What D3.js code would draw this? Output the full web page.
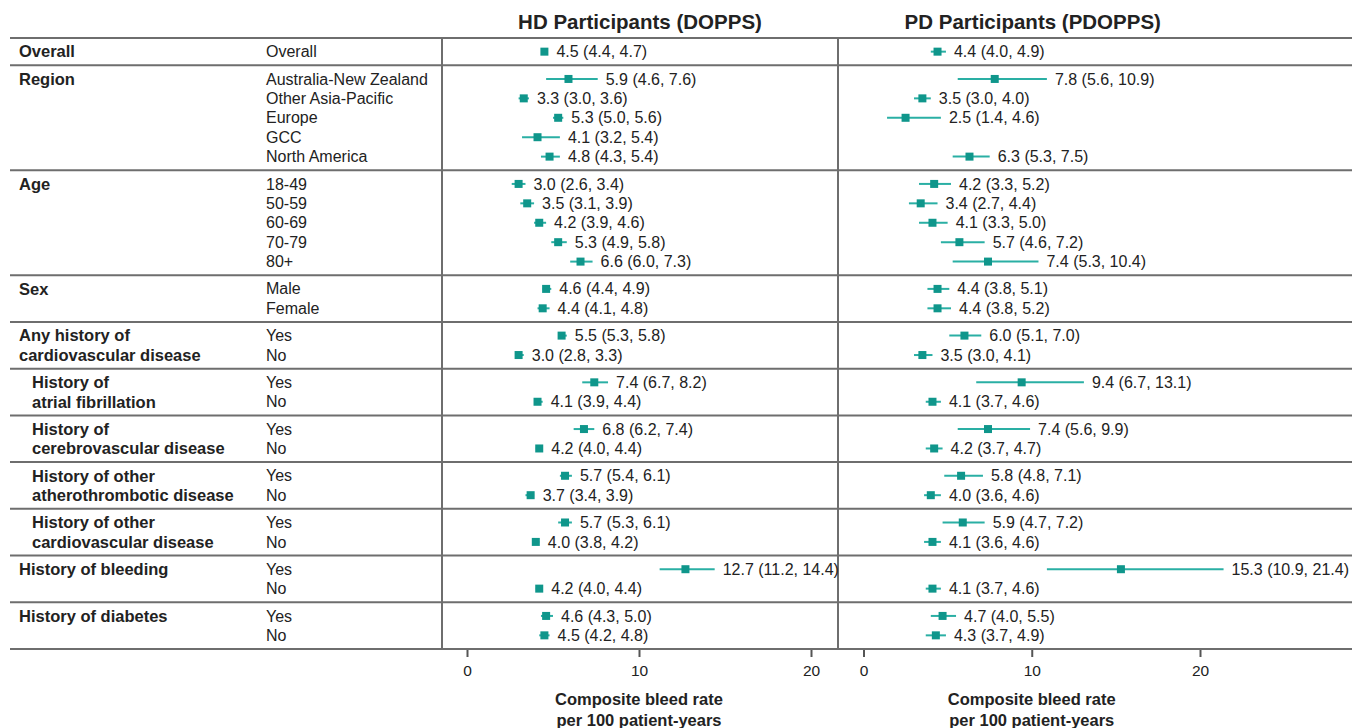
<!DOCTYPE html>
<html>
<head>
<meta charset="utf-8">
<script src="https://cdn.jsdelivr.net/npm/d3@7"></script>
<style>
  body { margin: 0; background: #fff; }
  text { font-family: "Liberation Sans", Arial, sans-serif; fill: #222; }
</style>
</head>
<body>
<div id="app"></div>
<script>
// Group labels (left column), indent flag and subgroup labels
var groupLabels = [
  ["Overall"], ["Region"], ["Age"], ["Sex"],
  ["Any history of", "cardiovascular disease"],
  ["History of", "atrial fibrillation"],
  ["History of", "cerebrovascular disease"],
  ["History of other", "atherothrombotic disease"],
  ["History of other", "cardiovascular disease"],
  ["History of bleeding"], ["History of diabetes"]
];
var groupIndent = [0, 0, 0, 0, 0, 1, 1, 1, 1, 0, 0];
var subgroups = [
  ["Overall"],
  ["Australia-New Zealand", "Other Asia-Pacific", "Europe", "GCC", "North America"],
  ["18-49", "50-59", "60-69", "70-79", "80+"],
  ["Male", "Female"],
  ["Yes", "No"], ["Yes", "No"], ["Yes", "No"], ["Yes", "No"], ["Yes", "No"],
  ["Yes", "No"], ["Yes", "No"]
];

// HD participants (DOPPS): estimate, lower and upper 95% CI, one per row
var hdEst = [4.5, 5.9, 3.3, 5.3, 4.1, 4.8, 3.0, 3.5, 4.2, 5.3, 6.6, 4.6, 4.4,
  5.5, 3.0, 7.4, 4.1, 6.8, 4.2, 5.7, 3.7, 5.7, 4.0, 12.7, 4.2, 4.6, 4.5];
var hdLo = [4.4, 4.6, 3.0, 5.0, 3.2, 4.3, 2.6, 3.1, 3.9, 4.9, 6.0, 4.4, 4.1,
  5.3, 2.8, 6.7, 3.9, 6.2, 4.0, 5.4, 3.4, 5.3, 3.8, 11.2, 4.0, 4.3, 4.2];
var hdHi = [4.7, 7.6, 3.6, 5.6, 5.4, 5.4, 3.4, 3.9, 4.6, 5.8, 7.3, 4.9, 4.8,
  5.8, 3.3, 8.2, 4.4, 7.4, 4.4, 6.1, 3.9, 6.1, 4.2, 14.4, 4.4, 5.0, 4.8];

// PD participants (PDOPPS); GCC has no estimate
var pdEst = [4.4, 7.8, 3.5, 2.5, null, 6.3, 4.2, 3.4, 4.1, 5.7, 7.4, 4.4, 4.4,
  6.0, 3.5, 9.4, 4.1, 7.4, 4.2, 5.8, 4.0, 5.9, 4.1, 15.3, 4.1, 4.7, 4.3];
var pdLo = [4.0, 5.6, 3.0, 1.4, null, 5.3, 3.3, 2.7, 3.3, 4.6, 5.3, 3.8, 3.8,
  5.1, 3.0, 6.7, 3.7, 5.6, 3.7, 4.8, 3.6, 4.7, 3.6, 10.9, 3.7, 4.0, 3.7];
var pdHi = [4.9, 10.9, 4.0, 4.6, null, 7.5, 5.2, 4.4, 5.0, 7.2, 10.4, 5.1, 5.2,
  7.0, 4.1, 13.1, 4.6, 9.9, 4.7, 7.1, 4.6, 7.2, 4.6, 21.4, 4.6, 5.5, 4.9];

var tickValues = [0, 10, 20];
var panelTitles = ["HD Participants (DOPPS)", "PD Participants (PDOPPS)"];
var axisTitle = ["Composite bleed rate", "per 100 patient-years"];

var width = 1364, height = 728;
var tableTop = 38, tableBottom = 649;
var padUnits = 0.406; // gap per group, in row units

var svg = d3.select("#app").append("svg")
  .attr("width", width)
  .attr("height", height);

// Lay out rows: each group gets its rows plus a small gap
var rows = [], groupStarts = [], u = 0;
subgroups.forEach(function (subs, g) {
  groupStarts.push(u);
  u += padUnits / 2;
  subs.forEach(function (s, i) {
    rows.push({ g: g, i: i, label: s, u: u + 0.5 });
    u += 1;
  });
  u += padUnits / 2;
});
groupStarts.push(u);

var y = d3.scaleLinear().domain([0, u]).range([tableTop, tableBottom]);

var panels = [
  { title: panelTitles[0], est: hdEst, lo: hdLo, hi: hdHi,
    x: d3.scaleLinear().domain([0, 20]).range([467, 811]), left: 442 },
  { title: panelTitles[1], est: pdEst, lo: pdLo, hi: pdHi,
    x: d3.scaleLinear().domain([0, 20]).range([863.5, 1200]), left: 838 }
];

// Horizontal separators
svg.selectAll(".sep")
  .data(groupStarts)
  .enter().append("line")
  .attr("x1", 10).attr("x2", 1352)
  .attr("y1", d => y(d)).attr("y2", d => y(d))
  .attr("stroke", "#6e6e6e").attr("stroke-width", 2);

// Vertical separators
svg.selectAll(".vsep")
  .data(panels)
  .enter().append("line")
  .attr("x1", d => d.left).attr("x2", d => d.left)
  .attr("y1", tableTop).attr("y2", tableBottom)
  .attr("stroke", "#6e6e6e").attr("stroke-width", 2);

// Group labels
groupLabels.forEach(function (lines, g) {
  lines.forEach(function (t, i) {
    svg.append("text")
      .attr("x", groupIndent[g] ? 32 : 19)
      .attr("y", y(groupStarts[g] + padUnits / 2 + i + 0.5))
      .attr("dy", "0.35em")
      .style("font-size", "16.5px")
      .style("font-weight", "bold")
      .text(t);
  });
});

// Subgroup labels
svg.selectAll(".sub")
  .data(rows)
  .enter().append("text")
  .attr("x", 266)
  .attr("y", d => y(d.u))
  .attr("dy", "0.35em")
  .style("font-size", "16px")
  .text(d => d.label);

panels.forEach(function (p) {
  var cx = p.x(10);

  svg.append("text")
    .attr("x", cx + 1).attr("y", 29)
    .attr("text-anchor", "middle")
    .style("font-size", "20.5px")
    .style("font-weight", "bold")
    .text(p.title);

  var pts = rows.map((r, k) => ({ y: y(r.u), est: p.est[k], lo: p.lo[k], hi: p.hi[k] }))
    .filter(d => d.est != null);

  var g = svg.append("g");

  g.selectAll(".ci")
    .data(pts)
    .enter().append("line")
    .attr("x1", d => p.x(d.lo)).attr("x2", d => p.x(d.hi))
    .attr("y1", d => d.y).attr("y2", d => d.y)
    .attr("stroke", "#2aafa4").attr("stroke-width", 2);

  g.selectAll(".pt")
    .data(pts)
    .enter().append("rect")
    .attr("x", d => p.x(d.est) - 4).attr("y", d => d.y - 4)
    .attr("width", 8).attr("height", 8)
    .attr("fill", "#0f968b");

  g.selectAll(".val")
    .data(pts)
    .enter().append("text")
    .attr("x", d => Math.max(p.x(d.hi), p.x(d.est) + 4) + 8)
    .attr("y", d => d.y)
    .attr("dy", "0.35em")
    .style("font-size", "16px")
    .text(d => d.est.toFixed(1) + " (" + d.lo.toFixed(1) + ", " + d.hi.toFixed(1) + ")");

  // Axis
  var ax = svg.append("g")
    .attr("transform", "translate(0," + (tableBottom + 1) + ")")
    .call(d3.axisBottom(p.x).tickValues(tickValues).tickSize(7).tickPadding(8));
  ax.select(".domain").remove();
  ax.selectAll(".tick line").attr("stroke", "#555").attr("stroke-width", 2);
  ax.selectAll(".tick text")
    .style("font-family", "'Liberation Sans', Arial, sans-serif")
    .style("font-size", "15.5px")
    .attr("fill", "#222");

  axisTitle.forEach(function (t, i) {
    svg.append("text")
      .attr("x", cx).attr("y", 705 + i * 21)
      .attr("text-anchor", "middle")
      .style("font-size", "16.5px")
      .style("font-weight", "bold")
      .text(t);
  });
});
</script>
</body>
</html>
